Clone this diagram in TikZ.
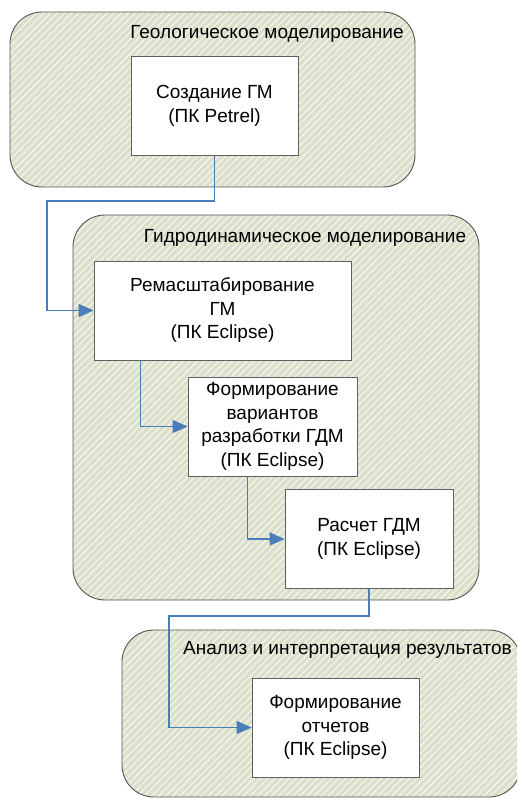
\documentclass[tikz,border=0pt]{standalone}
\usepackage{fontspec}
\setmainfont{Liberation Sans}
\usetikzlibrary{arrows.meta,patterns.meta,calc}
\definecolor{grpfill}{HTML}{DCDFCA}
\definecolor{grpline}{HTML}{555555}
\definecolor{boxline}{HTML}{606060}
\definecolor{flowblue}{HTML}{4A7EBB}

\begin{document}
\begin{tikzpicture}[x=1pt,y=-1pt,
  group/.style={draw=grpline, line width=0.9pt, rounded corners=32pt,
    preaction={fill=grpfill},
    pattern={Lines[angle=45,distance=5pt,line width=1pt]}, pattern color=white!80!grpfill},
  grouptitle/.style={font=\fontsize{19}{22}\selectfont, inner sep=0pt},
  task/.style={draw=boxline, fill=white, line width=0.8pt, inner sep=0pt,
    minimum height=99pt, align=center, font=\fontsize{19}{23.5}\selectfont},
  flow/.style={draw=flowblue, line width=1.5pt, -{Triangle[length=15pt,width=13pt]}}]
\useasboundingbox (0,0) rectangle (517,799);
\clip (0,0) rectangle (517,799);

%groups
\path[group] (10,12) rectangle (415,187);
\path[group] (73,215) rectangle (479,600);
\path[group] (122,630) rectangle (521,797);

\node[grouptitle] (t1) at (267,34) {Геологическое моделирование};
\node[grouptitle] (t2) at (305,238) {Гидродинамическое моделирование};
\node[grouptitle, anchor=west] (t3) at (183,650) {Анализ и интерпретация результатов};

%tasks
\node[task, minimum width=167pt] (b1) at (214.5,106) {Создание ГМ\\(ПК Petrel)};
\node[task, minimum width=257pt] (b2) at (222.5,310.5) {Ремасштабирование\\ГМ\\(ПК Eclipse)};
\node[task, minimum width=169pt] (b3) at (272.5,426.5) {Формирование\\вариантов\\разработки ГДМ\\(ПК Eclipse)};
\node[task, minimum width=168pt] (b4) at (369,539) {Расчет ГДМ\\(ПК Eclipse)};
\node[task, minimum width=167pt] (b5) at (335.5,727.5) {Формирование\\отчетов\\(ПК Eclipse)};

\coordinate (k1) at (47,201);
\coordinate (k2) at (169,616);

\draw[flow] (b1.south) |- (k1) |- (b2.west);
\draw[flow] ($(b2.south west)+(47,0)$) |- (b3.west);
\draw[flow] ($(b3.south west)+(60,0)$) |- (b4.west);
\draw[flow] (b4.south) |- (k2) |- (b5.west);
\end{tikzpicture}
\end{document}
